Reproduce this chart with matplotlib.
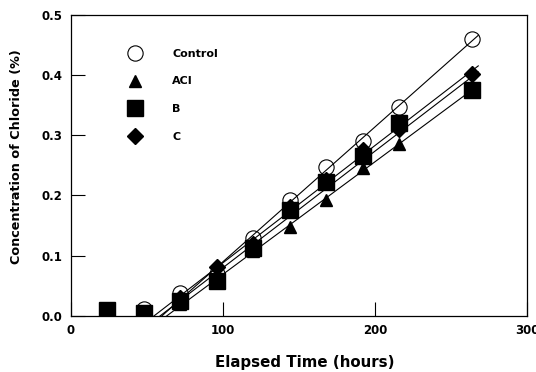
import numpy as np
import matplotlib
matplotlib.use('Agg')
import matplotlib.pyplot as plt

plt.rcParams['font.family'] = ['DejaVu Sans']

# Dados
hours = [24, 48, 72, 96, 120, 144, 168, 192, 216, 264]
control = [0.010, 0.012, 0.038, 0.070, 0.130, 0.193, 0.247, 0.290, 0.347, 0.460]
aci = [0.010, 0.005, 0.020, 0.060, 0.108, 0.148, 0.192, 0.245, 0.285, 0.376]
b = [0.010, 0.005, 0.025, 0.058, 0.113, 0.175, 0.222, 0.265, 0.320, 0.375]
c = [0.010, 0.005, 0.030, 0.082, 0.120, 0.180, 0.225, 0.275, 0.310, 0.402]

names = ['Control', 'ACI', 'B', 'C']
markers = ['o', '^', 's', 'D']
msizes = [11, 9, 11, 8]

fig = plt.figure(figsize=(5.36, 3.72), dpi=100)
ax = fig.add_axes([0.1325, 0.1505, 0.8505, 0.8105])

x = np.array(hours)
for name, ys, m, ms in zip(names, [control, aci, b, c], markers, msizes):
    y = np.array(ys)
    # reta de regressao a partir de 72 h
    sel = x >= 72
    k, q = np.polyfit(x[sel], y[sel], 1)
    x0 = -q / k
    xl = np.array([x0, 268])
    ax.plot(xl, k * xl + q, color='black', lw=0.8, zorder=2)
    if m == 'o':
        ax.plot(x, y, ls='none', marker=m, ms=ms, mfc='none', mec='black',
                mew=0.8, label=name, zorder=3)
    else:
        ax.plot(x, y, ls='none', marker=m, ms=ms, mfc='black', mec='black',
                label=name, zorder=4)

ax.set_xlim(0, 300)
ax.set_ylim(0, 0.5)
ax.set_xticks([0, 100, 200, 300])
ax.set_yticks([0.0, 0.1, 0.2, 0.3, 0.4, 0.5])
ax.set_yticklabels(['0.0', '0.1', '0.2', '0.3', '0.4', '0.5'])
ax.tick_params(direction='in', length=10, width=0.8, labelsize=8.5, pad=6)
for lab in ax.get_xticklabels() + ax.get_yticklabels():
    lab.set_fontweight('bold')
for s in ax.spines.values():
    s.set_linewidth(0.9)

ax.set_xlabel('Elapsed Time (hours)', fontsize=10.8, fontweight='heavy')
ax.xaxis.set_label_coords(0.513, -0.128)
ax.set_ylabel('Concentration of Chloride (%)', fontsize=9.2, fontweight='heavy')
ax.yaxis.set_label_coords(-0.105, 0.527)

leg = ax.legend(loc='upper left', bbox_to_anchor=(0.095, 0.92), frameon=False,
                handletextpad=2.3, labelspacing=1.6, prop={'weight': 'bold', 'size': 8})

fig.savefig('out.png', dpi=100)
